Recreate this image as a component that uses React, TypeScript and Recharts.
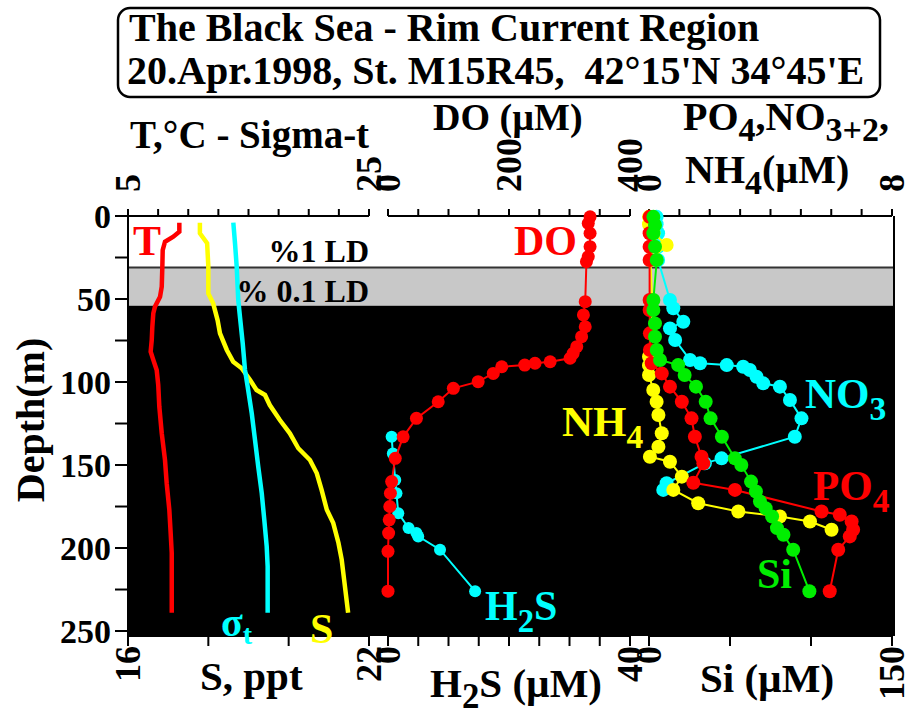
import React from 'react';
import { ComposedChart, Scatter, XAxis, YAxis, ReferenceArea, ReferenceLine } from 'recharts';

const FONT = '"Liberation Serif", "Times New Roman", Times, serif';
const W = 909;
const H = 719;
const PLOT_TOP = 216;
const PLOT_BOTTOM = 636;
const PLOT_LEFT = 128;
const PLOT_RIGHT = 894;
const DEPTH_MAX = 253;
const AXH = 60;

const RED = '#ff0000';
const YELLOW = '#ffff00';
const CYAN = '#00ffff';
const GREEN = '#00ee00';

// ---- depth axis ----
const depthTicks = [0, 25, 50, 75, 100, 125, 150, 175, 200, 225, 250];
const depthLabels = [0, 50, 100, 150, 200, 250];

// ---- light bands (depth, m) ----
const band1LD = [0, 31];
const band01LD = [31, 54];

// ---- panel 1 axes ----
const tempTicks = [5, 7.5, 10, 12.5, 15, 17.5, 20, 22.5, 25];
const tempLabels = [5, 25];
const salTicks = [16, 18, 20, 22];
const salLabels = [16, 22];

// ---- panel 2 axes ----
const doTicks = [0, 50, 100, 150, 200, 250, 300, 350, 400];
const doLabels = [0, 200, 400];
const h2sTicks = [0, 5, 10, 15, 20, 25, 30, 35, 40];
const h2sLabels = [0, 40];

// ---- panel 3 axes ----
const nutTicks = [0, 1, 2, 3, 4, 5, 6, 7, 8];
const nutLabels = [0, 8];
const siTicks = [0, 50, 100, 150];
const siLabels = [0, 150];

// ---- profiles: [depth (m), value] ----
const temperature: [number, number][] = [
  [4, 9.26], [9.5, 9.26], [12.5, 8.76], [15.5, 8.07], [20.5, 7.88], [30.5, 7.85], [42.6, 7.8],
  [48.6, 7.66], [54.6, 7.24], [58.6, 7.1], [66.7, 7.02], [74.7, 6.97], [81.7, 6.88], [86.7, 7.1],
  [92.8, 7.38], [101.8, 7.51], [114.9, 7.6], [130.9, 7.8], [147, 8.07], [161, 8.21], [177, 8.43],
  [191, 8.54], [203, 8.63], [239, 8.63],
];
const salinity: [number, number][] = [
  [4, 17.79], [10.4, 17.79], [16.4, 17.97], [30.5, 18.0], [46.6, 18.0], [52.6, 18.12], [62.7, 18.23],
  [70.7, 18.29], [80.7, 18.46], [87.8, 18.62], [91.7, 18.83], [98.8, 19.04], [104.8, 19.2],
  [107.8, 19.41], [113.9, 19.53], [122.9, 19.78], [130.9, 20.03], [139.9, 20.24], [147, 20.53],
  [155, 20.7], [165, 20.82], [177, 20.95], [185, 21.11], [197, 21.24], [207, 21.32], [219, 21.38],
  [239, 21.48],
];
const sigmaT: [number, number][] = [
  [4, 13.74], [16.4, 13.88], [30.5, 14.02], [50.6, 14.15], [60.7, 14.29], [76.7, 14.52],
  [92.8, 14.71], [102.8, 14.93], [118.9, 15.27], [134.9, 15.54], [151, 15.81], [167, 16.1],
  [183, 16.31], [199, 16.51], [211, 16.59], [239, 16.59],
];
const oxygen: [number, number][] = [
  [0.5, 334], [4.4, 331], [10.4, 334], [18.5, 334], [24.5, 331], [27.5, 328], [51.6, 326],
  [59.6, 323], [66.7, 326], [72.7, 320], [78.7, 312], [82.7, 306], [85.7, 301], [87.8, 268],
  [88.7, 243], [89.8, 226], [90.8, 188], [94.8, 174], [99.8, 149], [103.8, 108], [111.9, 83],
  [121.9, 47], [133, 25], [146, 12], [160, 6], [167, 4], [175, 3], [183, 2], [191, 1], [202, 0],
  [226, 0],
];
const hydrogenSulfide: [number, number][] = [
  [133, 0.6], [143, 0.8], [159, 1.2], [167, 1.4], [179, 1.7], [188, 3.4], [191, 4.7], [193, 5.0],
  [201, 8.6], [226, 14.4],
];
const phosphate: [number, number][] = [
  [0.5, 0.02], [10.4, 0.02], [18.5, 0.02], [26.5, 0.02], [50.6, 0.02], [56.6, 0.02], [70.7, 0.03],
  [80.7, 0.03], [88.7, 0.09], [94.8, 0.42], [102.8, 0.69], [111.9, 1.08], [121.9, 1.4], [133, 1.51],
  [145, 1.73], [149, 1.79], [160.7, 1.46], [165, 2.83], [178, 5.68], [180, 6.28], [184, 6.67],
  [189, 6.72], [193, 6.61], [201, 6.23], [226, 5.95],
];
const nitrate: [number, number][] = [
  [0.5, 0.25], [5, 0.25], [10.4, 0.3], [18.5, 0.3], [26.5, 0.3], [50.6, 0.69], [55.6, 0.8],
  [63.7, 1.13], [67.7, 0.69], [74.7, 0.86], [86.7, 1.35], [88.7, 1.68], [89.8, 2.56], [90.8, 3.1],
  [92.8, 3.32], [96.8, 3.54], [100.8, 3.76], [102.8, 4.31], [110.8, 4.64], [121.9, 5.02], [133, 4.8],
  [146, 2.39], [149, 1.84], [161, 0.58], [165, 0.47],
];
const ammonium: [number, number][] = [
  [0.5, 0.0], [5, 0.0], [10.4, 0.15], [17.5, 0.58], [26.5, 0.05], [50.6, 0.1], [56.6, 0.1],
  [84.8, 0.0], [90, 0.0], [95.8, 0.0], [104.8, 0.14], [111.9, 0.25], [119.9, 0.31], [130.9, 0.42],
  [139, 0.31], [145, 0.03], [148, 0.69], [157, 1.08], [165, 0.8], [173, 1.62], [178, 2.94],
  [181, 4.31], [184, 5.3], [189, 6.01],
];
const silicate: [number, number][] = [
  [0.5, 2.7], [5.4, 3.7], [10.4, 2.7], [18.5, 3.7], [26.5, 4.8], [50.6, 2.7], [56.6, 2.7],
  [64.7, 3.7], [72.7, 3.7], [80.7, 4.8], [86.7, 6.8], [89.8, 18], [95.8, 22], [102.8, 29],
  [111.9, 35], [121.9, 38], [133, 45], [146, 53], [150, 57], [160, 63], [166, 66], [172, 68.5],
  [176, 72], [181, 76], [188, 79], [192, 83], [201, 89], [226, 99],
];

const toPts = (arr: [number, number][]) => arr.map(([d, v]) => ({ d, v }));

const AX = { stroke: '#000', strokeWidth: 2 };

const makeTopTick = (labels: number[]) => (props: any) => {
  const { x, payload } = props;
  if (!labels.includes(payload.value)) return <g />;
  const y = PLOT_TOP - 24;
  return (
    <text x={x} y={y} transform={`rotate(-90 ${x} ${y})`} textAnchor="start" dominantBaseline="central"
      fontFamily={FONT} fontWeight="bold" fontSize={36} fill="#000">{payload.value}</text>
  );
};
const makeBotTick = (labels: number[]) => (props: any) => {
  const { x, payload } = props;
  if (!labels.includes(payload.value)) return <g />;
  const y = PLOT_BOTTOM + 10;
  return (
    <text x={x} y={y} transform={`rotate(-90 ${x} ${y})`} textAnchor="end" dominantBaseline="central"
      fontFamily={FONT} fontWeight="bold" fontSize={36} fill="#000">{payload.value}</text>
  );
};
const DepthTick = (props: any) => {
  const { x, y, payload } = props;
  if (!depthLabels.includes(payload.value)) return <g />;
  return (
    <text x={x} y={y} textAnchor="end" dominantBaseline="central" fontFamily={FONT} fontWeight="bold"
      fontSize={34} fill="#000">{payload.value}</text>
  );
};

type SeriesDef = { key: string; data: [number, number][]; color: string; axis: 'top' | 'bot'; r: number; width: number };
type AxisDef = { domain: [number, number]; ticks: number[]; labels: number[] };

function Panel({ x0, x1, top, bot, series }: { x0: number; x1: number; top: AxisDef; bot: AxisDef; series: SeriesDef[] }) {
  return (
    <div style={{ position: 'absolute', left: 0, top: 0 }}>
      <ComposedChart width={W} height={H}
        margin={{ top: PLOT_TOP - AXH, bottom: H - PLOT_BOTTOM - AXH, left: x0, right: W - x1 }}>
        <XAxis xAxisId="top" orientation="top" type="number" dataKey="v" domain={top.domain} ticks={top.ticks}
          interval={0} height={AXH} tickSize={7} tick={makeTopTick(top.labels)} axisLine={AX} tickLine={AX} />
        <XAxis xAxisId="bot" orientation="bottom" type="number" dataKey="v" domain={bot.domain} ticks={bot.ticks}
          interval={0} height={AXH} tickSize={10} tick={makeBotTick(bot.labels)} axisLine={AX} tickLine={AX} />
        <YAxis yAxisId="d" type="number" dataKey="d" domain={[0, DEPTH_MAX]} reversed hide width={0} />
        {series.map((s) => (
          <Scatter key={s.key} name={s.key} xAxisId={s.axis} yAxisId="d" data={toPts(s.data)} fill={s.color}
            line={{ stroke: s.color, strokeWidth: s.width }} lineType="joint" isAnimationActive={false}
            shape={(p: any) => (s.r > 0 ? <circle cx={p.cx} cy={p.cy} r={s.r} fill={s.color} /> : <g />)} />
        ))}
      </ComposedChart>
    </div>
  );
}

const bgPts = [{ x: 0, d: 0 }, { x: 1, d: DEPTH_MAX }];

function Background() {
  return (
    <div style={{ position: 'absolute', left: 0, top: 0 }}>
      <ComposedChart width={W} height={H}
        margin={{ top: PLOT_TOP, bottom: H - PLOT_BOTTOM, left: 0, right: W - PLOT_RIGHT }}>
        <XAxis xAxisId="bg" type="number" dataKey="x" domain={[0, 1]} hide />
        <YAxis yAxisId="d" type="number" dataKey="d" domain={[0, DEPTH_MAX]} reversed ticks={depthTicks}
          interval={0} width={PLOT_LEFT} tickSize={13} tickMargin={4} tick={DepthTick} axisLine={AX} tickLine={AX} />
        <ReferenceArea xAxisId="bg" yAxisId="d" x1={0} x2={1} y1={band1LD[0]} y2={band1LD[1]} fill="#ffffff" fillOpacity={1} />
        <ReferenceArea xAxisId="bg" yAxisId="d" x1={0} x2={1} y1={band01LD[0]} y2={band01LD[1]} fill="#c8c8c8" fillOpacity={1} />
        <ReferenceArea xAxisId="bg" yAxisId="d" x1={0} x2={1} y1={band01LD[1]} y2={DEPTH_MAX} fill="#000000" fillOpacity={1} />
        <ReferenceLine xAxisId="bg" yAxisId="d" y={band01LD[0]} stroke="#333" strokeWidth={2} />
        <ReferenceLine xAxisId="bg" yAxisId="d" x={1} stroke="#000" strokeWidth={2} />
        <Scatter xAxisId="bg" yAxisId="d" data={bgPts} isAnimationActive={false} shape={() => <g />} />
      </ComposedChart>
    </div>
  );
}

// rich text: [text, isSubscript]
type Part = [string, boolean];
function Rich({ x, y, size, fill, parts, subScale = 0.78, shiftScale = 0.28 }: { x: number; y: number; size: number; fill: string; parts: Part[]; subScale?: number; shiftScale?: number }) {
  const shift = size * shiftScale;
  let prevSub = false;
  return (
    <text x={x} y={y} fontFamily={FONT} fontWeight="bold" fontSize={size} fill={fill}>
      {parts.map(([t, isSub], i) => {
        const dy = isSub === prevSub ? 0 : isSub ? shift : -shift;
        prevSub = isSub;
        return (
          <tspan key={i} dy={dy} fontSize={isSub ? size * subScale : size}>{t}</tspan>
        );
      })}
    </text>
  );
}

function Overlay() {
  const T = { fontFamily: FONT, fontWeight: 'bold' as const };
  return (
    <svg width={W} height={H} style={{ position: 'absolute', left: 0, top: 0, pointerEvents: 'none' }}>
      <rect x={118} y={8} width={762} height={89} rx={12} ry={12} fill="#fff" stroke="#000" strokeWidth={2.5} />
      <text x={129} y={41} {...T} fontSize={40} fill="#000">The Black Sea - Rim Current Region</text>
      <text x={127} y={84} {...T} fontSize={40} fill="#000" xmlSpace="preserve">20.Apr.1998, St. M15R45,  42°15'N 34°45'E</text>

      <text x={130} y={148} {...T} fontSize={39} fill="#000">T,°C - Sigma-t</text>
      <text x={433} y={130} {...T} fontSize={38} fill="#000">DO (µM)</text>
      <Rich x={683} y={130} size={40} fill="#000" subScale={0.85}
        parts={[['PO', false], ['4', true], [',NO', false], ['3+2', true], [',', false]]} />
      <Rich x={685} y={183} size={40} fill="#000" subScale={0.85}
        parts={[['NH', false], ['4', true], ['(µM)', false]]} />

      <text x={30} y={420} {...T} fontSize={40} fill="#000" textAnchor="middle" dominantBaseline="central"
        transform="rotate(-90 30 420)">Depth(m)</text>

      <text x={200} y={690} {...T} fontSize={41} fill="#000">S, ppt</text>
      <Rich x={430} y={697} size={41} fill="#000" subScale={0.85}
        parts={[['H', false], ['2', true], ['S (µM)', false]]} />
      <text x={700} y={692} {...T} fontSize={41} fill="#000">Si (µM)</text>

      <text x={369} y={262} {...T} fontSize={32} fill="#000" textAnchor="end">%1 LD</text>
      <text x={369} y={302} {...T} fontSize={32} fill="#000" textAnchor="end">% 0.1 LD</text>

      <text x={133} y={255} {...T} fontSize={42} fill={RED}>T</text>
      <text x={514} y={255} {...T} fontSize={42} fill={RED}>DO</text>
      <Rich x={221} y={636} size={40} fill={CYAN} subScale={0.7} shiftScale={0.2} parts={[['σ', false], ['t', true]]} />
      <text x={310} y={643} {...T} fontSize={42} fill={YELLOW}>S</text>
      <Rich x={485} y={620} size={42} fill={CYAN} parts={[['H', false], ['2', true], ['S', false]]} />
      <Rich x={562} y={436} size={43} fill={YELLOW} parts={[['NH', false], ['4', true]]} />
      <Rich x={805} y={408} size={43} fill={CYAN} parts={[['NO', false], ['3', true]]} />
      <Rich x={813} y={500} size={43} fill={RED} parts={[['PO', false], ['4', true]]} />
      <text x={757} y={588} {...T} fontSize={42} fill={GREEN}>Si</text>
    </svg>
  );
}

export default function App() {
  return (
    <div style={{ position: 'absolute', left: 0, top: 0, width: W, height: H, overflow: 'hidden', background: '#fff' }}>
      <Background />
      <Panel x0={128} x1={369}
        top={{ domain: [5, 25], ticks: tempTicks, labels: tempLabels }}
        bot={{ domain: [16, 22], ticks: salTicks, labels: salLabels }}
        series={[
          { key: 'T', data: temperature, color: RED, axis: 'top', r: 0, width: 4.5 },
          { key: 'S', data: salinity, color: YELLOW, axis: 'bot', r: 0, width: 4.5 },
          { key: 'sigma', data: sigmaT, color: CYAN, axis: 'top', r: 0, width: 4.5 },
        ]} />
      <Panel x0={388} x1={630}
        top={{ domain: [0, 400], ticks: doTicks, labels: doLabels }}
        bot={{ domain: [0, 40], ticks: h2sTicks, labels: h2sLabels }}
        series={[
          { key: 'H2S', data: hydrogenSulfide, color: CYAN, axis: 'bot', r: 6, width: 2 },
          { key: 'DO', data: oxygen, color: RED, axis: 'top', r: 6.5, width: 2 },
        ]} />
      <Panel x0={649} x1={892}
        top={{ domain: [0, 8], ticks: nutTicks, labels: nutLabels }}
        bot={{ domain: [0, 150], ticks: siTicks, labels: siLabels }}
        series={[
          { key: 'NO3', data: nitrate, color: CYAN, axis: 'top', r: 7, width: 2 },
          { key: 'NH4', data: ammonium, color: YELLOW, axis: 'top', r: 7, width: 2 },
          { key: 'PO4', data: phosphate, color: RED, axis: 'top', r: 7, width: 2 },
          { key: 'Si', data: silicate, color: GREEN, axis: 'bot', r: 7, width: 2 },
        ]} />
      <Overlay />
    </div>
  );
}
